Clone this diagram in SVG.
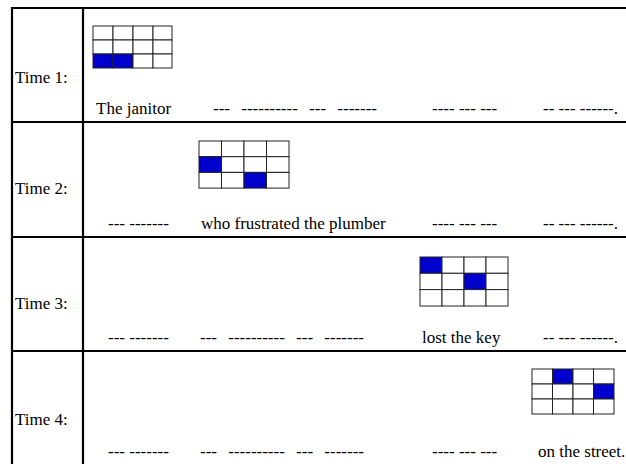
<svg xmlns="http://www.w3.org/2000/svg" width="626" height="464" viewBox="0 0 626 464">
<style>
text{font-family:"Liberation Serif","Times New Roman",serif;font-size:17px;fill:#000}
.wide{word-spacing:7px}
.frame{stroke:#000;stroke-width:2.2;fill:none}
.cell{fill:#fff;stroke:#222;stroke-width:1}
.on{fill:#0000cc;stroke:#222;stroke-width:1}
</style>
<rect width="626" height="464" fill="#fff"/>
<g id="frame">
<line class="frame" x1="12" y1="8" x2="626" y2="8"/>
<line class="frame" x1="12" y1="122" x2="626" y2="122"/>
<line class="frame" x1="12" y1="237" x2="626" y2="237"/>
<line class="frame" x1="12" y1="351" x2="626" y2="351"/>
<line class="frame" x1="12" y1="7" x2="12" y2="464"/>
<line class="frame" x1="83" y1="7" x2="83" y2="464"/>
</g>
<g id="labels">
<text x="15" y="83">Time 1:</text>
<text x="15" y="194">Time 2:</text>
<text x="15" y="309">Time 3:</text>
<text x="15" y="425">Time 4:</text>
</g>
<g id="grid1">
<rect class="cell" x="93" y="26" width="20" height="14"/><rect class="cell" x="113" y="26" width="20" height="14"/><rect class="cell" x="133" y="26" width="20" height="14"/><rect class="cell" x="153" y="26" width="19" height="14"/>
<rect class="cell" x="93" y="40" width="20" height="14"/><rect class="cell" x="113" y="40" width="20" height="14"/><rect class="cell" x="133" y="40" width="20" height="14"/><rect class="cell" x="153" y="40" width="19" height="14"/>
<rect class="on" x="93" y="54" width="20" height="14"/><rect class="on" x="113" y="54" width="20" height="14"/><rect class="cell" x="133" y="54" width="20" height="14"/><rect class="cell" x="153" y="54" width="19" height="14"/>
</g>
<g id="grid2">
<rect class="cell" x="199" y="141" width="22.5" height="15.7"/><rect class="cell" x="221.5" y="141" width="22.5" height="15.7"/><rect class="cell" x="244" y="141" width="22.5" height="15.7"/><rect class="cell" x="266.5" y="141" width="22.5" height="15.7"/>
<rect class="on" x="199" y="156.7" width="22.5" height="15.7"/><rect class="cell" x="221.5" y="156.7" width="22.5" height="15.7"/><rect class="cell" x="244" y="156.7" width="22.5" height="15.7"/><rect class="cell" x="266.5" y="156.7" width="22.5" height="15.7"/>
<rect class="cell" x="199" y="172.4" width="22.5" height="15.7"/><rect class="cell" x="221.5" y="172.4" width="22.5" height="15.7"/><rect class="on" x="244" y="172.4" width="22.5" height="15.7"/><rect class="cell" x="266.5" y="172.4" width="22.5" height="15.7"/>
</g>
<g id="grid3">
<rect class="on" x="420" y="257" width="22" height="16.3"/><rect class="cell" x="442" y="257" width="22" height="16.3"/><rect class="cell" x="464" y="257" width="22" height="16.3"/><rect class="cell" x="486" y="257" width="22" height="16.3"/>
<rect class="cell" x="420" y="273.3" width="22" height="16.3"/><rect class="cell" x="442" y="273.3" width="22" height="16.3"/><rect class="on" x="464" y="273.3" width="22" height="16.3"/><rect class="cell" x="486" y="273.3" width="22" height="16.3"/>
<rect class="cell" x="420" y="289.6" width="22" height="16.4"/><rect class="cell" x="442" y="289.6" width="22" height="16.4"/><rect class="cell" x="464" y="289.6" width="22" height="16.4"/><rect class="cell" x="486" y="289.6" width="22" height="16.4"/>
</g>
<g id="grid4">
<rect class="cell" x="532" y="369" width="20.5" height="15"/><rect class="on" x="552.5" y="369" width="20.5" height="15"/><rect class="cell" x="573" y="369" width="20.5" height="15"/><rect class="cell" x="593.5" y="369" width="20.5" height="15"/>
<rect class="cell" x="532" y="384" width="20.5" height="15"/><rect class="cell" x="552.5" y="384" width="20.5" height="15"/><rect class="cell" x="573" y="384" width="20.5" height="15"/><rect class="on" x="593.5" y="384" width="20.5" height="15"/>
<rect class="cell" x="532" y="399" width="20.5" height="15"/><rect class="cell" x="552.5" y="399" width="20.5" height="15"/><rect class="cell" x="573" y="399" width="20.5" height="15"/><rect class="cell" x="593.5" y="399" width="20.5" height="15"/>
</g>
<g id="row1">
<text x="96" y="114">The janitor</text>
<text class="wide" x="213" y="114">--- ---------- --- -------</text>
<text x="432" y="114">---- --- ---</text>
<text x="543" y="114">-- --- ------.</text>
</g>
<g id="row2">
<text x="108" y="229">--- -------</text>
<text x="201" y="229">who frustrated the plumber</text>
<text x="432" y="229">---- --- ---</text>
<text x="543" y="229">-- --- ------.</text>
</g>
<g id="row3">
<text x="108" y="343">--- -------</text>
<text class="wide" x="200" y="343">--- ---------- --- -------</text>
<text x="422" y="343">lost the key</text>
<text x="543" y="343">-- --- ------.</text>
</g>
<g id="row4">
<text x="108" y="457">--- -------</text>
<text class="wide" x="200" y="457">--- ---------- --- -------</text>
<text x="432" y="457">---- --- ---</text>
<text x="538" y="457">on the street.</text>
</g>
</svg>
